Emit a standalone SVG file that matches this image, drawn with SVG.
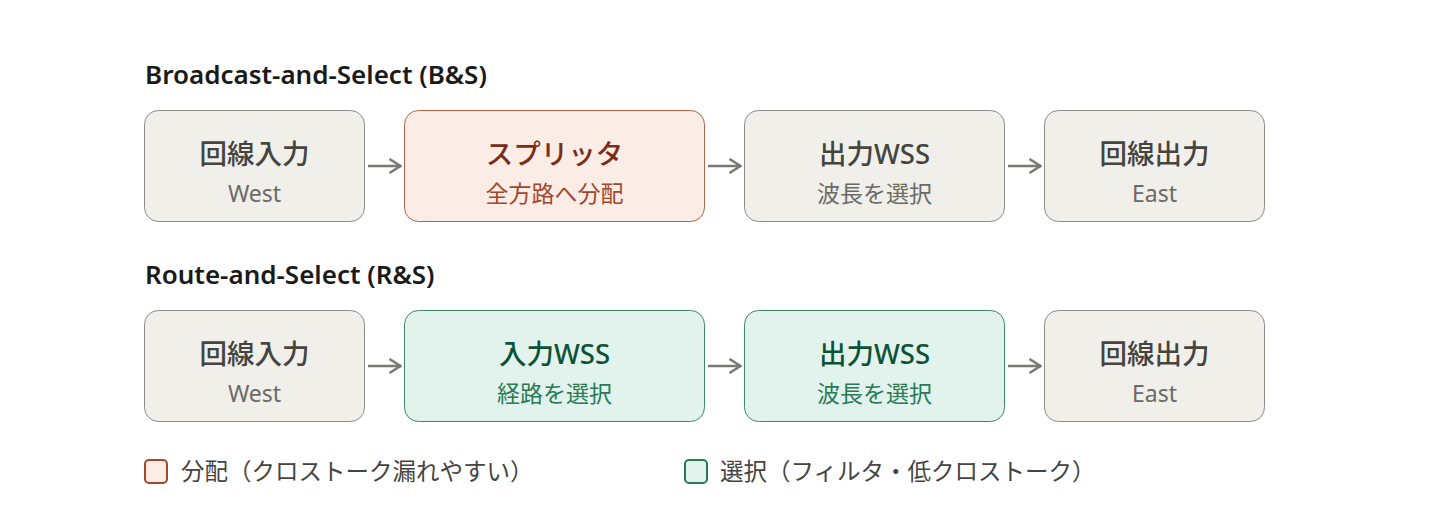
<svg xmlns="http://www.w3.org/2000/svg" width="1446" height="520" viewBox="0 0 1446 520">
<style>
text{font-family:"Noto Sans","Noto Sans CJK JP",sans-serif}
.title{font-size:26px;font-weight:600;fill:#1a1a1a}
.main{font-size:27.5px;font-weight:500;text-anchor:middle}
.sub{font-size:23px;text-anchor:middle}
.g rect{fill:#f0efea;stroke:#8c8b86;stroke-width:1}
.g .main{fill:#45443f}.g .sub{fill:#6b6a65}
.r rect{fill:#fbece6;stroke:#b4634a;stroke-width:1}
.r .main{fill:#7a2e18}.r .sub{fill:#a3472b}
.t rect{fill:#e1f3ec;stroke:#3d8a68;stroke-width:1}
.t .main{fill:#0d5236}.t .sub{fill:#2a7a56}
.conn line{stroke:#7a7975;stroke-width:2.5;fill:none}
.leg{font-size:23.5px;fill:#45443f}
</style>
<defs>
<marker id="ah" viewBox="0 0 14 16" refX="13" refY="8" markerWidth="14" markerHeight="16" markerUnits="userSpaceOnUse" orient="auto">
<path d="M1.5,1 L12.5,8 L1.5,15" fill="none" stroke="#7a7975" stroke-width="2.5"/>
</marker>
</defs>
<rect width="1446" height="520" fill="#ffffff"/>
<text class="title" x="145" y="84">Broadcast-and-Select (B&amp;S)</text>
<text class="title" x="145" y="284">Route-and-Select (R&amp;S)</text>

<g id="bs-in" class="g"><rect x="144.5" y="110.5" width="220" height="111" rx="14"/><text class="main" x="254.5" y="164">回線入力</text><text class="sub" x="254.5" y="202">West</text></g>
<g id="bs-split" class="r"><rect x="404.5" y="110.5" width="300" height="111" rx="14"/><text class="main" x="554.5" y="164">スプリッタ</text><text class="sub" x="554.5" y="202">全方路へ分配</text></g>
<g id="bs-wss" class="g"><rect x="744.5" y="110.5" width="260" height="111" rx="14"/><text class="main" x="874.5" y="164">出力WSS</text><text class="sub" x="874.5" y="202">波長を選択</text></g>
<g id="bs-out" class="g"><rect x="1044.5" y="110.5" width="220" height="111" rx="14"/><text class="main" x="1154.5" y="164">回線出力</text><text class="sub" x="1154.5" y="202">East</text></g>

<g id="rs-in" class="g"><rect x="144.5" y="310.5" width="220" height="111" rx="14"/><text class="main" x="254.5" y="364">回線入力</text><text class="sub" x="254.5" y="402">West</text></g>
<g id="rs-inwss" class="t"><rect x="404.5" y="310.5" width="300" height="111" rx="14"/><text class="main" x="554.5" y="364">入力WSS</text><text class="sub" x="554.5" y="402">経路を選択</text></g>
<g id="rs-outwss" class="t"><rect x="744.5" y="310.5" width="260" height="111" rx="14"/><text class="main" x="874.5" y="364">出力WSS</text><text class="sub" x="874.5" y="402">波長を選択</text></g>
<g id="rs-out" class="g"><rect x="1044.5" y="310.5" width="220" height="111" rx="14"/><text class="main" x="1154.5" y="364">回線出力</text><text class="sub" x="1154.5" y="402">East</text></g>

<g id="connectors" class="conn">
<line x1="368" y1="166" x2="401" y2="166" marker-end="url(#ah)"/>
<line x1="708" y1="166" x2="741" y2="166" marker-end="url(#ah)"/>
<line x1="1008" y1="166" x2="1041" y2="166" marker-end="url(#ah)"/>
<line x1="368" y1="366" x2="401" y2="366" marker-end="url(#ah)"/>
<line x1="708" y1="366" x2="741" y2="366" marker-end="url(#ah)"/>
<line x1="1008" y1="366" x2="1041" y2="366" marker-end="url(#ah)"/>
</g>

<g id="legend">
<rect x="145" y="460" width="22" height="23" rx="4" fill="#fbece6" stroke="#a3472b" stroke-width="2"/>
<text class="leg" x="181" y="480">分配（クロストーク漏れやすい）</text>
<rect x="685" y="460" width="22" height="23" rx="4" fill="#e1f3ec" stroke="#2a7a56" stroke-width="2"/>
<text class="leg" x="720" y="480">選択（フィルタ・低クロストーク）</text>
</g>
</svg>
